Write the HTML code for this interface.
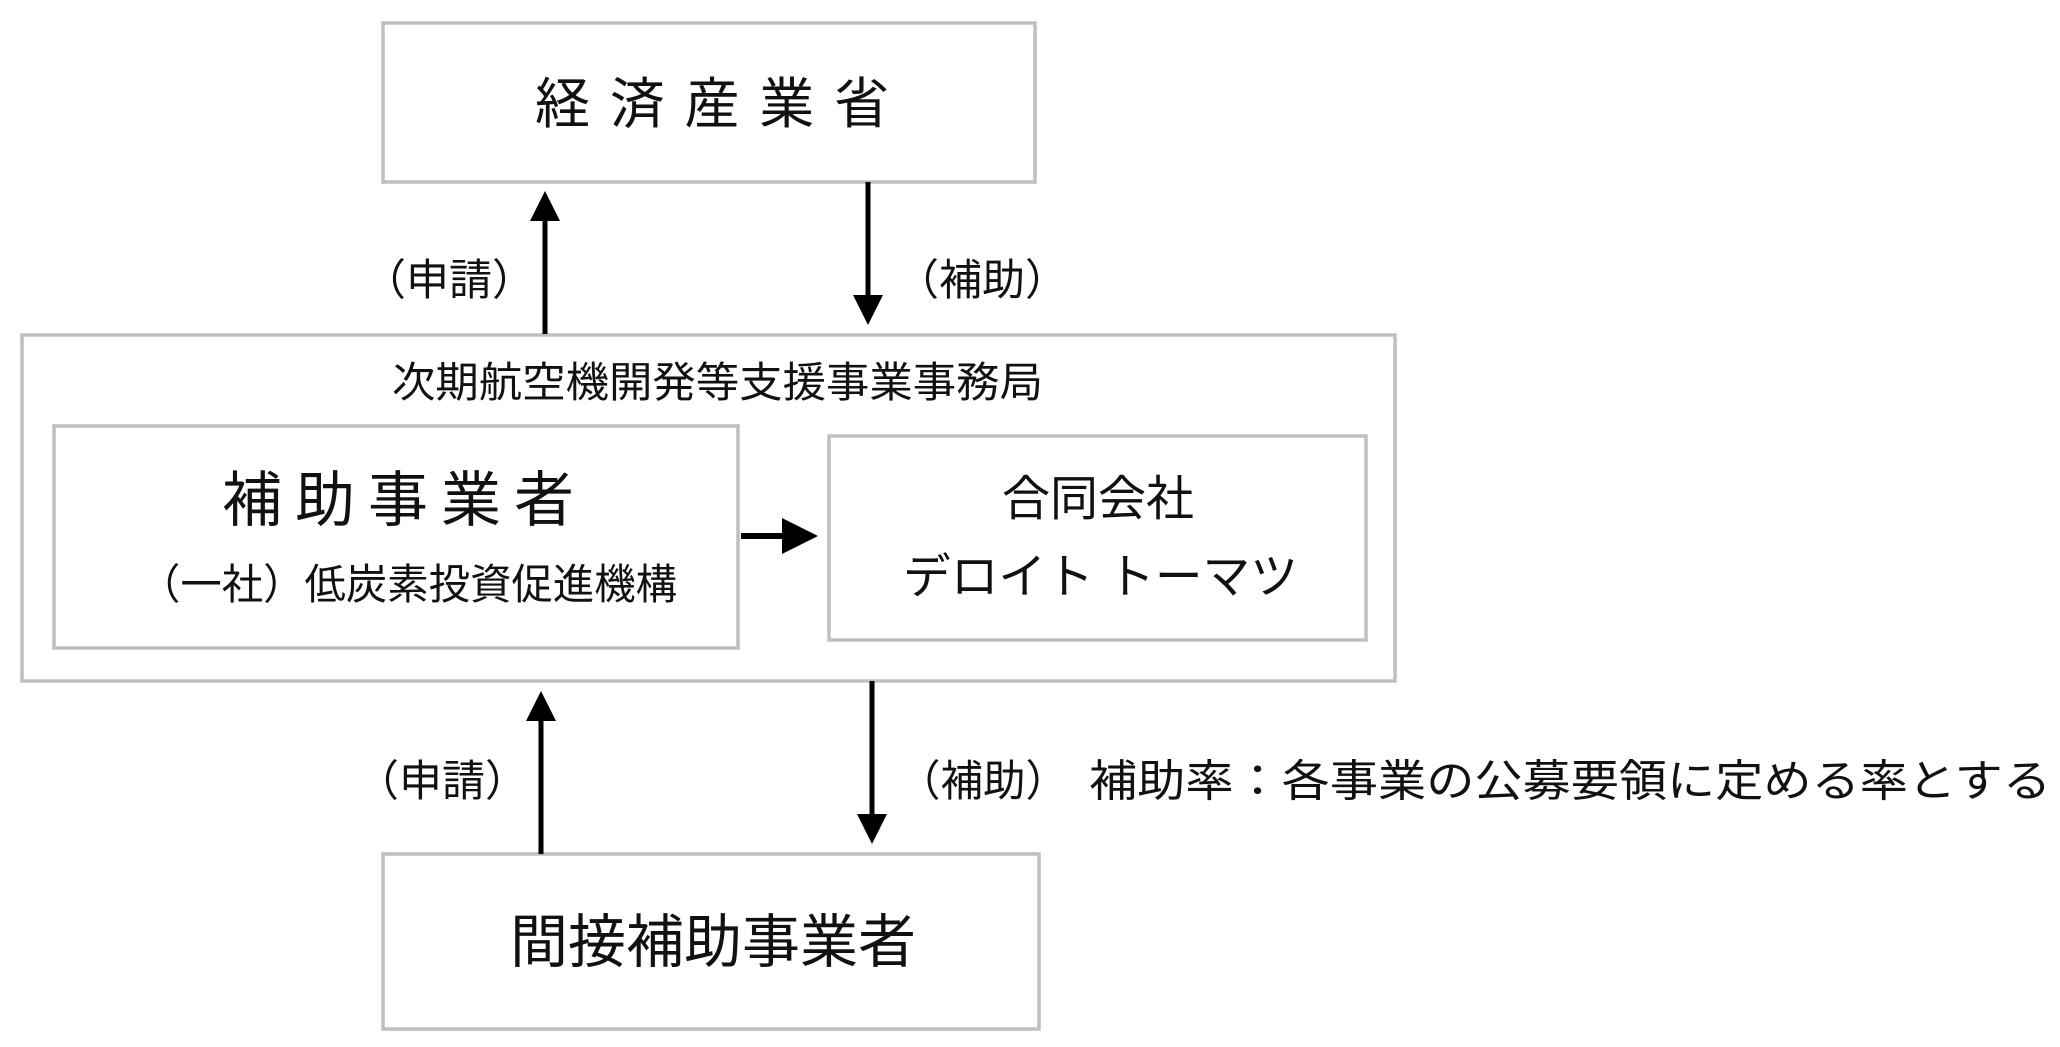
<!DOCTYPE html>
<html><head><meta charset="utf-8"><style>
html,body{margin:0;padding:0;background:#fff;}
svg{display:block}
text{font-family:"Liberation Sans","Noto Sans CJK JP",sans-serif;fill:#111;}
</style></head><body>
<svg width="2060" height="1047" viewBox="0 0 2060 1047" xmlns="http://www.w3.org/2000/svg">
<defs>
<marker id="ah" markerWidth="6" markerHeight="6" refX="5" refY="3" orient="auto" markerUnits="strokeWidth">
<path d="M0,0 L6,3 L0,6 z" fill="#000"/></marker>
</defs>
<g fill="none" stroke="#bfbfbf" stroke-width="3.5">
<rect x="383" y="23" width="652" height="159"/>
<rect x="22" y="335" width="1373" height="346"/>
<rect x="54" y="426" width="684" height="222"/>
<rect x="829" y="436" width="537" height="204"/>
<rect x="383" y="854" width="656" height="175"/>
</g>
<g stroke="#000" stroke-width="5">
<line x1="545" y1="334" x2="545" y2="196" marker-end="url(#ah)"/>
<line x1="868" y1="182" x2="868" y2="320" marker-end="url(#ah)"/>
<line x1="741" y1="536" x2="812" y2="536" stroke-width="6" marker-end="url(#ah)"/>
<line x1="541" y1="854" x2="541" y2="696" marker-end="url(#ah)"/>
<line x1="872" y1="681" x2="872" y2="839" marker-end="url(#ah)"/>
</g>
<text x="535" y="123" font-size="55" textLength="354" lengthAdjust="spacing">経済産業省</text>
<text x="449" y="295" font-size="43" text-anchor="middle">（申請）</text>
<text x="982" y="295" font-size="43" text-anchor="middle">（補助）</text>
<text x="392" y="397" font-size="42" textLength="651" lengthAdjust="spacingAndGlyphs">次期航空機開発等支援事業事務局</text>
<text x="222" y="521" font-size="60" textLength="352" lengthAdjust="spacing">補助事業者</text>
<text x="139" y="599" font-size="42" textLength="538" lengthAdjust="spacingAndGlyphs">（一社）低炭素投資促進機構</text>
<text x="1098" y="515" font-size="48" text-anchor="middle">合同会社</text>
<text x="903" y="593" font-size="48" textLength="395" lengthAdjust="spacingAndGlyphs">デロイト トーマツ</text>
<text x="442" y="796" font-size="43" text-anchor="middle">（申請）</text>
<text x="898" y="796" font-size="43" textLength="170" lengthAdjust="spacingAndGlyphs">（補助）</text>
<text x="1089" y="796" font-size="44" textLength="962" lengthAdjust="spacingAndGlyphs">補助率：各事業の公募要領に定める率とする</text>
<text x="713" y="962" font-size="58" text-anchor="middle">間接補助事業者</text>
</svg>
</body></html>
